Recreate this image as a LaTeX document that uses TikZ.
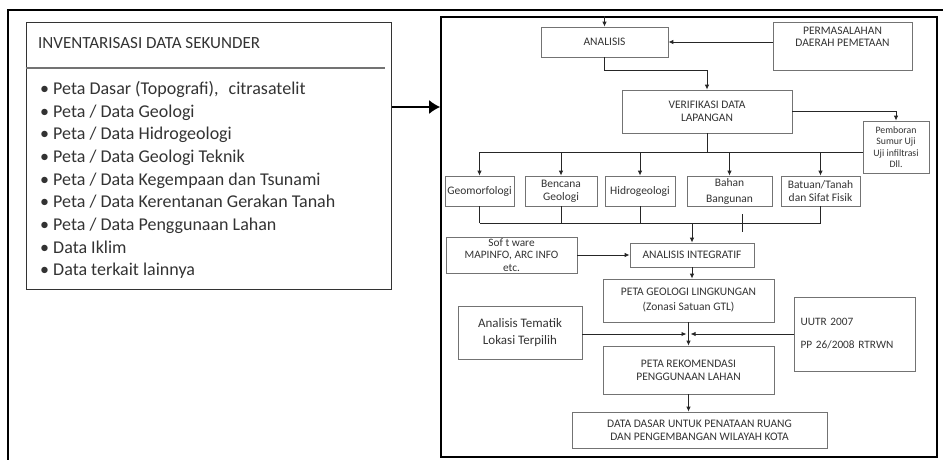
\documentclass[tikz,border=0pt]{standalone}
\usepackage{fontspec}
\setmainfont{Carlito}
\usetikzlibrary{positioning, arrows.meta, calc}
\colorlet{ink}{black!80}
\colorlet{edge}{black!55}
\colorlet{wirec}{black!85}
\tikzset{
  frame/.style    ={draw=black, line width=2pt},
  panel/.style    ={draw=black, line width=1.6pt, inner sep=0pt},
  listbox/.style  ={draw=black!80, line width=1pt, inner sep=0pt},
  sepline/.style  ={draw=edge, line width=1.3pt},
  titletext/.style={text=ink, inner sep=0pt,
                    font=\fontsize{17}{20}\selectfont},
  listtext/.style ={text=ink, align=left, inner sep=0pt,
                    font=\fontsize{18}{22.7}\selectfont},
  box/.style      ={draw=edge, line width=0.8pt, inner sep=1pt,
                    align=center, text=ink,
                    font=\fontsize{11.5}{13}\selectfont},
  wire/.style     ={draw=wirec, line width=0.9pt},
  arr/.style      ={wire, -{Latex[length=5pt, width=4.5pt]}},
  bigarrow/.style ={draw=black, line width=1.6pt,
                    -{Latex[length=11pt, width=14pt]}},
}

\begin{document}
\begin{tikzpicture}[x=1pt, y=-1pt]
\useasboundingbox (0,0) rectangle (943,460);

% outer frame
\draw[frame] (8,460) -- (8,10) -- (943,10);

% secondary data inventory
\node[listbox, minimum width=365pt, minimum height=266pt] (sekunder) at (208.5,156) {};
\node[titletext, anchor=west] (judul) at (38,43) {INVENTARISASI DATA SEKUNDER};
\coordinate (garis) at (0,68);
\draw[sepline] (sekunder.west |- garis) -- ++(359,0);
\node[listtext, anchor=north west] (daftar) at (40,81)
  {• Peta Dasar (Topografi),\hspace{10pt}citrasatelit\\
   • Peta / Data Geologi\\
   • Peta / Data Hidrogeologi\\
   • Peta / Data Geologi Teknik\\
   • Peta / Data Kegempaan dan Tsunami\\
   • Peta / Data Kerentanan Gerakan Tanah\\
   • Peta / Data Penggunaan Lahan\\
   • Data Iklim\\
   • Data terkait lainnya};

% flow panel
\node[panel, minimum width=496pt, minimum height=440pt] (panel) at (689,237) {};
\coordinate (lvl) at (0,107);
\draw[bigarrow] (sekunder.east |- lvl) -- (panel.west |- lvl);

\node[box, minimum width=127pt, minimum height=30pt] (analisis) at (604.5,42) {ANALISIS};
\node[box, minimum width=139pt, minimum height=48pt,
      label={[text=ink, align=center, anchor=north, inner sep=0pt, yshift=-5pt,
              font=\fontsize{11.5}{12.5}\selectfont]north:PERMASALAHAN\\DAERAH PEMETAAN}]
  (masalah) at (842.5,46) {};
\node[box, minimum width=170pt, minimum height=43pt] (verif) at (707,111.5)
  {VERIFIKASI DATA\\LAPANGAN};
\node[box, minimum width=66pt, minimum height=52pt, inner sep=0pt,
      font=\fontsize{9.8}{11.3}\selectfont] (bor) at (896,147)
  {Pemboran\\Sumur Uji\\Uji infiltrasi\\Dll.};

\draw[arr] (analisis.north |- panel.north) -- (analisis.north);
\draw[arr] (masalah.west |- analisis) -- (analisis);
\draw[arr] (analisis.south) -- ++(0,13) -| (verif.north);
\draw[arr] (verif.east) -| (bor.north);

% survey themes
\node[box, minimum width=69pt, minimum height=30pt] (geomorf) at (479.5,191) {Geomorfologi};
\node[box, minimum width=72pt, minimum height=30pt] (bencana) at (561,191) {Bencana\\Geologi};
\node[box, minimum width=70pt, minimum height=30pt] (hidro) at (640,191) {Hidrogeologi};
\node[box, minimum width=85pt, minimum height=30pt] (bahan) at (729.5,191) {Bahan\\[3pt]Bangunan};
\node[box, minimum width=79pt, minimum height=30pt] (batuan) at (820.5,191)
  {Batuan/Tanah\\dan Sifat Fisik};

\coordinate (bus1) at (0,152);
\coordinate (bus2) at (0,223);
\draw[wire] (verif.south) -- (verif.south |- bus1);
\draw[wire] (geomorf.north |- bus1) -- (bor.west |- bus1);
\foreach \n in {geomorf, bencana, hidro, bahan, batuan}
  \draw[arr] (\n.north |- bus1) -- (\n.north);
\foreach \n in {geomorf, bencana, hidro, batuan}
  \draw[wire] (\n.south) -- (\n.south |- bus2);
\draw[wire] (geomorf.south |- bus2) -- (batuan.south |- bus2);
\draw[wire] ($(bahan.south)+(13,8)$) -- ++(0,18);

% integration
\node[box, minimum width=124pt, minimum height=24pt] (integratif) at (692,255) {ANALISIS INTEGRATIF};
\node[box, minimum width=131pt, minimum height=36pt, inner sep=0pt,
      font=\fontsize{11.3}{12.5}\selectfont] (software) at (511.5,255)
  {Sof t ware\\MAPINFO, ARC INFO\\etc.};
\draw[arr] (integratif.north |- bus2) -- (integratif.north);
\draw[arr] (software) -- (integratif);

\node[box, minimum width=171pt, minimum height=43pt] (pgl) at (688.5,300.5)
  {PETA GEOLOGI LINGKUNGAN\\[2pt](Zonasi Satuan GTL)};
\draw[arr] (integratif.south) -- (integratif.south |- pgl.north);

\node[box, minimum width=124pt, minimum height=53pt,
      font=\fontsize{13}{16.5}\selectfont] (tematik) at (520,332.5)
  {Analisis Tematik\\Lokasi Terpilih};
\node[box, minimum width=121pt, minimum height=74pt, align=left,
      text width=108pt, font=\fontsize{11.3}{13}\selectfont] (uutr) at (854.5,334)
  {UUTR 2007\\[10pt]PP 26/2008 RTRWN};
\node[box, minimum width=171pt, minimum height=48pt] (rekom) at (688.5,370)
  {PETA REKOMENDASI\\PENGGUNAAN LAHAN};
\node[box, minimum width=255pt, minimum height=36pt] (dasar) at (699.5,430)
  {DATA DASAR UNTUK PENATAAN RUANG\\DAN PENGEMBANGAN WILAYAH KOTA};

\coordinate (temu) at ($(pgl.south)!0.5!(rekom.north)$);
\draw[arr] (pgl.south) -- (rekom.north);
\draw[arr, shorten >=2pt] (tematik.east |- temu) -- (temu);
\draw[arr, shorten >=2pt] (uutr.west |- temu) -- (temu);
\draw[arr] (rekom.south) -- (rekom.south |- dasar.north);

\end{tikzpicture}
\end{document}
